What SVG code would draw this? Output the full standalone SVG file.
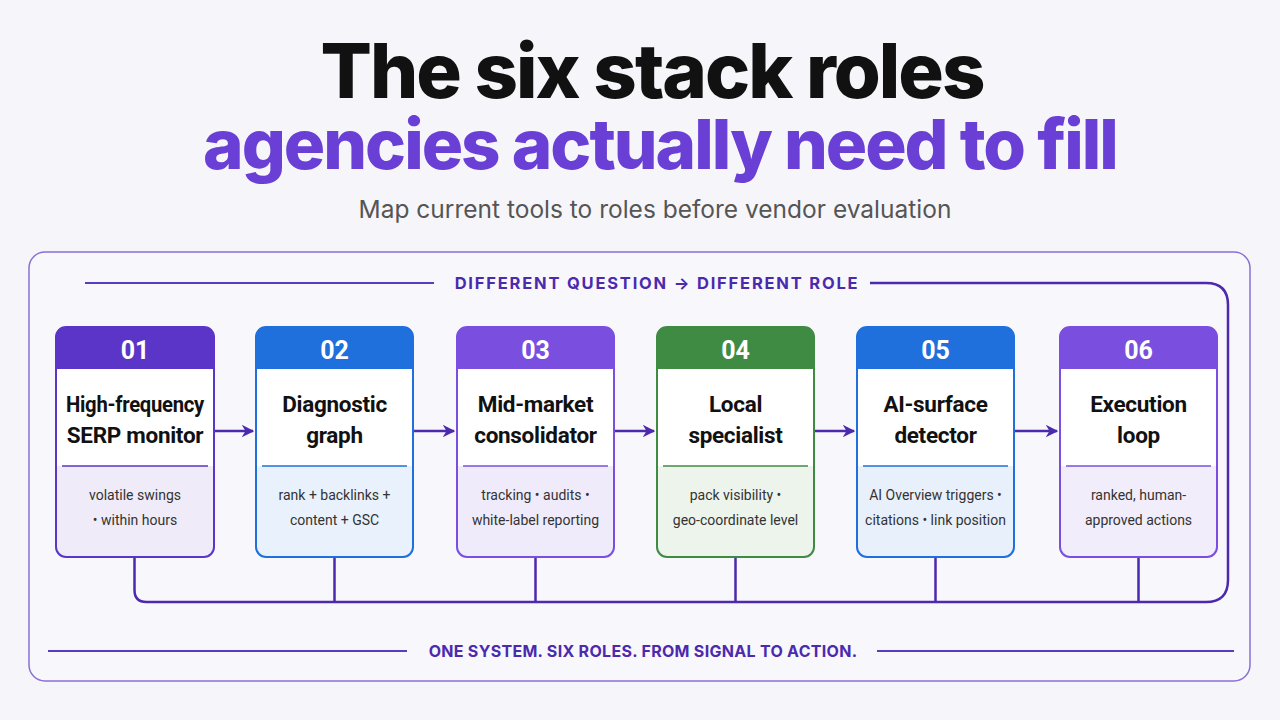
<svg xmlns="http://www.w3.org/2000/svg" width="1280" height="720" viewBox="0 0 1280 720">
<defs>
<style>
.t1{font-family:Inter,"Noto Sans",sans-serif;font-weight:800;font-size:76px;fill:#111;letter-spacing:-2px}
.t2{font-family:Inter,"Noto Sans",sans-serif;font-weight:800;font-size:69px;fill:#6a3fd6;letter-spacing:-2px}
.sub{font-family:Inter,"Noto Sans",sans-serif;font-size:24.5px;fill:#555}
.lbl{font-family:Inter,"Noto Sans",sans-serif;font-weight:700;font-size:16.5px;fill:#4b2aad;letter-spacing:1.8px}
.lbl2{font-family:Inter,"Noto Sans",sans-serif;font-weight:700;font-size:16px;fill:#4b2aad;letter-spacing:0.3px}
.num{font-family:Roboto,"Noto Sans",sans-serif;font-weight:700;font-size:25px;fill:#fff}
.ttl{font-family:Roboto,"Noto Sans",sans-serif;font-weight:700;font-size:22.5px;fill:#111;letter-spacing:-0.3px}
.dsc{font-family:Roboto,"Noto Sans",sans-serif;font-size:14px;fill:#333}
.con{fill:none;stroke:#4b2aad;stroke-width:2.5}
.rule{stroke:#5a3cc0;stroke-width:2}
</style>
<marker id="ah" viewBox="0 0 10 10" refX="9" refY="5" markerWidth="5" markerHeight="5" orient="auto" markerUnits="strokeWidth">
<path d="M0,0 L10,5 L0,10 L3,5 z" fill="#4b2aad"/>
</marker>
</defs>
<rect width="1280" height="720" fill="#f6f6fa"/>
<text class="t1" x="652" y="98" text-anchor="middle">The six stack roles</text>
<text class="t2" x="660" y="169" text-anchor="middle">agencies actually need to fill</text>
<text class="sub" x="655" y="218" text-anchor="middle">Map current tools to roles before vendor evaluation</text>
<rect x="29" y="252" width="1221" height="429" rx="16" fill="#f8f7fc" stroke="#8a6fd6" stroke-width="1.5"/>
<line class="rule" x1="85" y1="283" x2="434" y2="283"/>
<text class="lbl" x="657" y="289" text-anchor="middle">DIFFERENT QUESTION → DIFFERENT ROLE</text>
<line class="rule" x1="48" y1="651" x2="407" y2="651"/>
<line class="rule" x1="877" y1="651" x2="1234" y2="651"/>
<text class="lbl2" x="643" y="657" text-anchor="middle">ONE SYSTEM. SIX ROLES. FROM SIGNAL TO ACTION.</text>
<g id="connectors">
<path class="con" d="M134.5 557 V590 Q134.5 602 146.5 602 H1206 Q1228 602 1228 580 V305 Q1228 283 1206 283 H870"/>
<path class="con" d="M334.5 557 V602 M535.5 557 V602 M735.5 557 V602 M935.5 557 V602 M1138.5 557 V602"/>
<path class="con" marker-end="url(#ah)" d="M214 431 H253"/>
<path class="con" marker-end="url(#ah)" d="M413 431 H454"/>
<path class="con" marker-end="url(#ah)" d="M614 431 H654"/>
<path class="con" marker-end="url(#ah)" d="M814 431 H854"/>
<path class="con" marker-end="url(#ah)" d="M1014 431 H1057"/>
</g>
<g id="n1">
<rect x="56" y="327" width="158" height="230" rx="10" fill="#fff"/>
<path d="M56 466 H214 V547 Q214 557 204 557 H66 Q56 557 56 547 Z" fill="#efebf9"/>
<path d="M56 369 V337 Q56 327 66 327 H204 Q214 327 214 337 V369 Z" fill="#5b35c8"/>
<rect x="56" y="327" width="158" height="230" rx="10" fill="none" stroke="#5b35c8" stroke-width="2"/>
<line x1="62" y1="466" x2="208" y2="466" stroke="#5b35c8" stroke-width="1.5"/>
<text class="num" x="135" y="359" text-anchor="middle">01</text>
<text class="ttl" x="135" y="412" text-anchor="middle" textLength="138" lengthAdjust="spacingAndGlyphs">High-frequency</text>
<text class="ttl" x="135" y="443" text-anchor="middle">SERP monitor</text>
<text class="dsc" x="135" y="500" text-anchor="middle">volatile swings</text>
<text class="dsc" x="135" y="525" text-anchor="middle">• within hours</text>
</g>
<g id="n2">
<rect x="256" y="327" width="157" height="230" rx="10" fill="#fff"/>
<path d="M256 466 H413 V547 Q413 557 403 557 H266 Q256 557 256 547 Z" fill="#e9f1fc"/>
<path d="M256 369 V337 Q256 327 266 327 H403 Q413 327 413 337 V369 Z" fill="#1f6fdc"/>
<rect x="256" y="327" width="157" height="230" rx="10" fill="none" stroke="#1f6fdc" stroke-width="2"/>
<line x1="262" y1="466" x2="407" y2="466" stroke="#1f6fdc" stroke-width="1.5"/>
<text class="num" x="334.5" y="359" text-anchor="middle">02</text>
<text class="ttl" x="334.5" y="412" text-anchor="middle">Diagnostic</text>
<text class="ttl" x="334.5" y="443" text-anchor="middle">graph</text>
<text class="dsc" x="334.5" y="500" text-anchor="middle">rank + backlinks +</text>
<text class="dsc" x="334.5" y="525" text-anchor="middle">content + GSC</text>
</g>
<g id="n3">
<rect x="457" y="327" width="157" height="230" rx="10" fill="#fff"/>
<path d="M457 466 H614 V547 Q614 557 604 557 H467 Q457 557 457 547 Z" fill="#f0ebfb"/>
<path d="M457 369 V337 Q457 327 467 327 H604 Q614 327 614 337 V369 Z" fill="#7a4fe0"/>
<rect x="457" y="327" width="157" height="230" rx="10" fill="none" stroke="#7a4fe0" stroke-width="2"/>
<line x1="463" y1="466" x2="608" y2="466" stroke="#7a4fe0" stroke-width="1.5"/>
<text class="num" x="535.5" y="359" text-anchor="middle">03</text>
<text class="ttl" x="535.5" y="412" text-anchor="middle">Mid-market</text>
<text class="ttl" x="535.5" y="443" text-anchor="middle">consolidator</text>
<text class="dsc" x="535.5" y="500" text-anchor="middle">tracking  • audits •</text>
<text class="dsc" x="535.5" y="525" text-anchor="middle">white-label reporting</text>
</g>
<g id="n4">
<rect x="657" y="327" width="157" height="230" rx="10" fill="#fff"/>
<path d="M657 466 H814 V547 Q814 557 804 557 H667 Q657 557 657 547 Z" fill="#edf4ec"/>
<path d="M657 369 V337 Q657 327 667 327 H804 Q814 327 814 337 V369 Z" fill="#408b44"/>
<rect x="657" y="327" width="157" height="230" rx="10" fill="none" stroke="#408b44" stroke-width="2"/>
<line x1="663" y1="466" x2="808" y2="466" stroke="#408b44" stroke-width="1.5"/>
<text class="num" x="735.5" y="359" text-anchor="middle">04</text>
<text class="ttl" x="735.5" y="412" text-anchor="middle">Local</text>
<text class="ttl" x="735.5" y="443" text-anchor="middle">specialist</text>
<text class="dsc" x="735.5" y="500" text-anchor="middle">pack visibility •</text>
<text class="dsc" x="735.5" y="525" text-anchor="middle">geo-coordinate level</text>
</g>
<g id="n5">
<rect x="857" y="327" width="157" height="230" rx="10" fill="#fff"/>
<path d="M857 466 H1014 V547 Q1014 557 1004 557 H867 Q857 557 857 547 Z" fill="#e8f0fc"/>
<path d="M857 369 V337 Q857 327 867 327 H1004 Q1014 327 1014 337 V369 Z" fill="#1f6fdc"/>
<rect x="857" y="327" width="157" height="230" rx="10" fill="none" stroke="#1f6fdc" stroke-width="2"/>
<line x1="863" y1="466" x2="1008" y2="466" stroke="#1f6fdc" stroke-width="1.5"/>
<text class="num" x="935.5" y="359" text-anchor="middle">05</text>
<text class="ttl" x="935.5" y="412" text-anchor="middle">AI-surface</text>
<text class="ttl" x="935.5" y="443" text-anchor="middle">detector</text>
<text class="dsc" x="935.5" y="500" text-anchor="middle">AI Overview triggers •</text>
<text class="dsc" x="935.5" y="525" text-anchor="middle">citations • link position</text>
</g>
<g id="n6">
<rect x="1060" y="327" width="157" height="230" rx="10" fill="#fff"/>
<path d="M1060 466 H1217 V547 Q1217 557 1207 557 H1070 Q1060 557 1060 547 Z" fill="#f1edfb"/>
<path d="M1060 369 V337 Q1060 327 1070 327 H1207 Q1217 327 1217 337 V369 Z" fill="#7a4fe0"/>
<rect x="1060" y="327" width="157" height="230" rx="10" fill="none" stroke="#7a4fe0" stroke-width="2"/>
<line x1="1066" y1="466" x2="1211" y2="466" stroke="#7a4fe0" stroke-width="1.5"/>
<text class="num" x="1138.5" y="359" text-anchor="middle">06</text>
<text class="ttl" x="1138.5" y="412" text-anchor="middle">Execution</text>
<text class="ttl" x="1138.5" y="443" text-anchor="middle">loop</text>
<text class="dsc" x="1138.5" y="500" text-anchor="middle">ranked, human-</text>
<text class="dsc" x="1138.5" y="525" text-anchor="middle">approved actions</text>
</g>
</svg>
